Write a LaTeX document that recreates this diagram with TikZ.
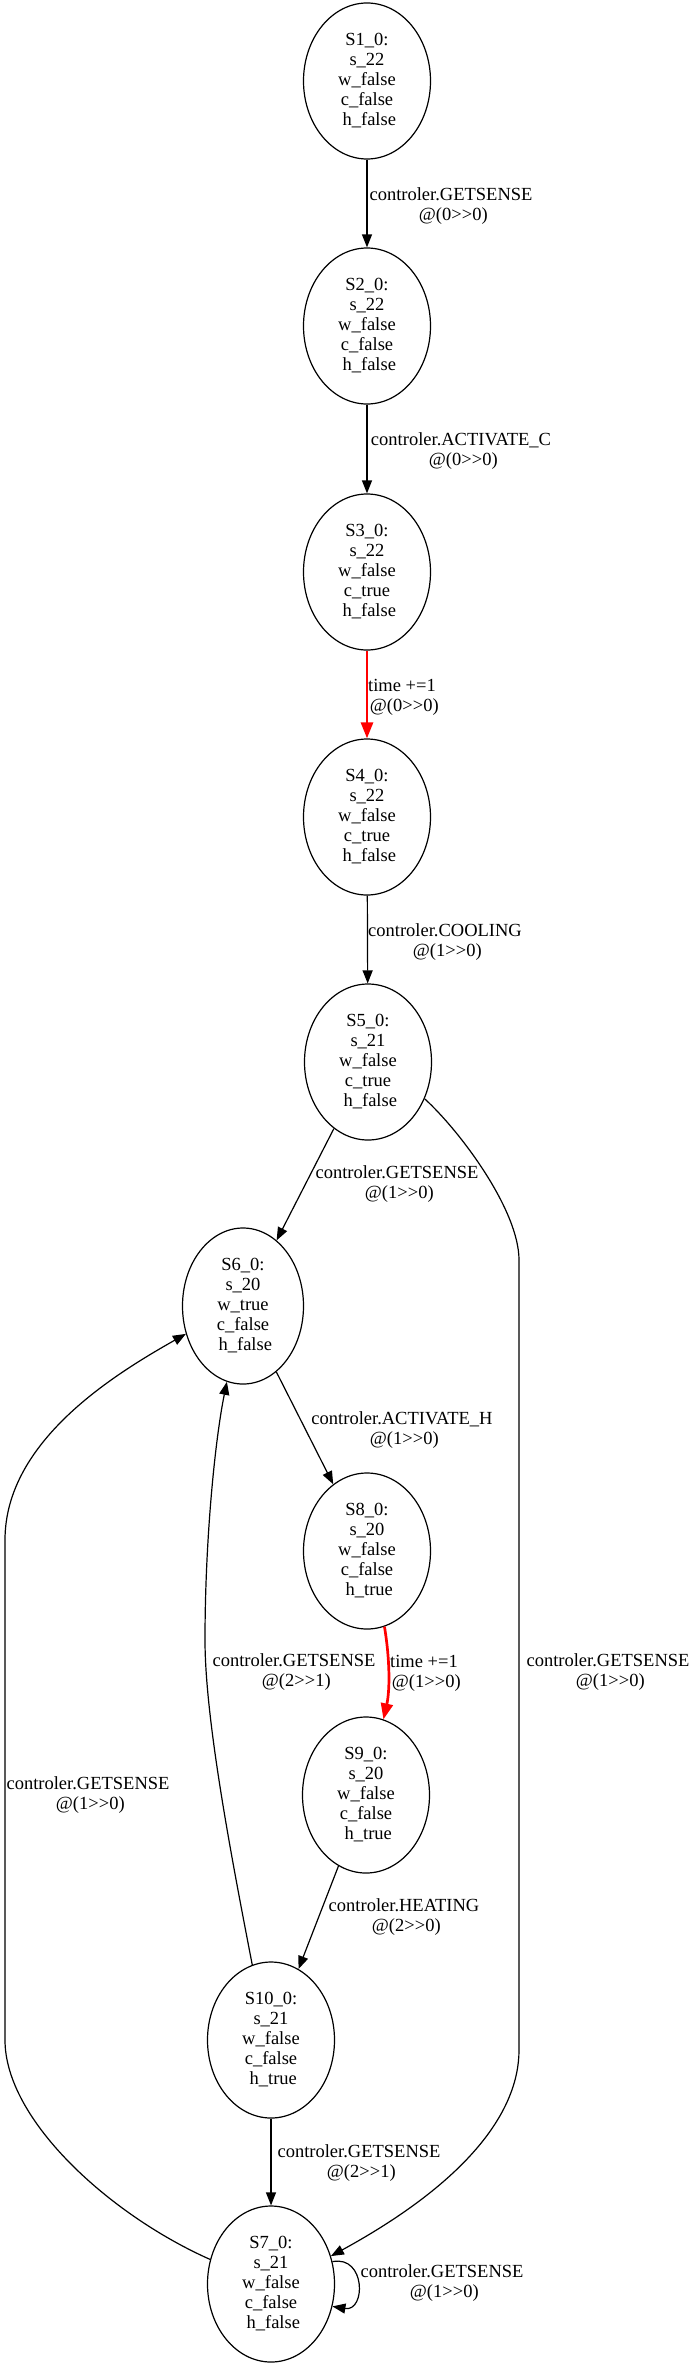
\documentclass[tikz,border=0pt]{standalone}
\usepackage{fontspec}
\setmainfont{Liberation Serif}
\usetikzlibrary{arrows.meta,shapes.geometric}
\newcommand\dgt{>\kern0pt>}
\begin{document}
\begin{tikzpicture}[x=1pt,y=-1pt,
  st/.style={draw, ellipse, line width=1.2pt, minimum width=127pt, minimum height=156pt,
    inner sep=0pt, align=center, font=\fontsize{18.5}{20}\selectfont},
  lbl/.style={align=center, inner sep=0pt, font=\fontsize{18.5}{20}\selectfont},
  edge/.style={draw, line width=1.2pt, -{Triangle[length=13pt,width=10pt]}},
  hot/.style={draw=red, line width=2.7pt, -{Triangle[length=16pt,width=12pt]}}]
\useasboundingbox (0,0) rectangle (696,2368);
\fill[white] (0,0) rectangle (696,2368);
% states
\node[st] (S1) at (367,81) {S1\_0:\\s\_22\\w\_false\\c\_false\\\ h\_false};
\node[st] (S2) at (367,326) {S2\_0:\\s\_22\\w\_false\\c\_false\\\ h\_false};
\node[st] (S3) at (367,572) {S3\_0:\\s\_22\\w\_false\\c\_true\\\ h\_false};
\node[st] (S4) at (367,817) {S4\_0:\\s\_22\\w\_false\\c\_true\\\ h\_false};
\node[st] (S5) at (368,1062) {S5\_0:\\s\_21\\w\_false\\c\_true\\\ h\_false};
\node[st, minimum width=121pt] (S6) at (243,1306) {S6\_0:\\s\_20\\w\_true\\c\_false\\\ h\_false};
\node[st] (S8) at (367,1551) {S8\_0:\\s\_20\\w\_false\\c\_false\\\ h\_true};
\node[st] (S9) at (366,1795) {S9\_0:\\s\_20\\w\_false\\c\_false\\\ h\_true};
\node[st] (S10) at (271,2040) {S10\_0:\\s\_21\\w\_false\\c\_false\\\ h\_true};
\node[st] (S7) at (271,2284) {S7\_0:\\s\_21\\w\_false\\c\_false\\\ h\_false};
% edge labels
\node[lbl] (L1) at (451,206) {controler.GETSENSE\\\ @(0\dgt0)};
\node[lbl] (L2) at (461,451) {controler.ACTIVATE\_C\\\ @(0\dgt0)};
\node[lbl] (L3) at (402,697) {time +=1\\\ @(0\dgt0)};
\node[lbl] (L4) at (445,942) {controler.COOLING\\\ @(1\dgt0)};
\node[lbl] (L5) at (397,1184) {controler.GETSENSE\\\ @(1\dgt0)};
\node[lbl] (L6) at (402,1430) {controler.ACTIVATE\_H\\\ @(1\dgt0)};
\node[lbl] (L7) at (424,1673) {time +=1\\\ @(1\dgt0)};
\node[lbl] (L8) at (294,1672) {controler.GETSENSE\\\ @(2\dgt1)};
\node[lbl] (L9) at (608,1672) {controler.GETSENSE\\\ @(1\dgt0)};
\node[lbl] (L10) at (404,1917) {controler.HEATING\\\ @(2\dgt0)};
\node[lbl] (L11) at (88,1795) {controler.GETSENSE\\\ @(1\dgt0)};
\node[lbl] (L12) at (359,2163) {controler.GETSENSE\\\ @(2\dgt1)};
\node[lbl] (L13) at (442,2283) {controler.GETSENSE\\\ @(1\dgt0)};
% edges
\draw[edge] (S1) -- (S2);
\draw[edge] (S2) -- (S3);
\draw[hot] (S3) -- (S4);
\draw[edge] (S4) -- (S5);
\draw[edge] (S5) -- (S6);
\draw[edge] (S6) -- (S8);
\draw[hot] (S8.-77) .. controls (390,1660) and (390,1690) .. (S9.77);
\draw[edge] (S9) -- (S10);
\draw[edge] (S10) -- (S7);
\draw[edge] (S5.-33) .. controls (460,1131) and (519,1210) .. (519,1260)
  -- (519,2050) .. controls (519,2110) and (470,2180) .. (S7.25);
\draw[edge] (S7.158) .. controls (110,2215) and (5,2120) .. (5,2040)
  -- (5,1540) .. controls (5,1440) and (117,1373) .. (S6.206);
\draw[edge] (S10.104) .. controls (232,1860) and (205,1720) .. (205,1640)
  .. controls (205,1540) and (215,1440) .. (S6.258);
\draw[edge] (S7.20) .. controls (366,2255) and (366,2312) .. (S7.-20);
\end{tikzpicture}
\end{document}
